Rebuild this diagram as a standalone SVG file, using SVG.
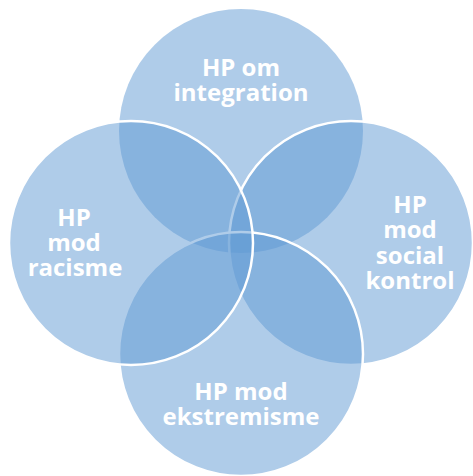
<svg xmlns="http://www.w3.org/2000/svg" width="473" height="476" viewBox="0 0 473 476">
<style>
.c{fill:#5f9ad3;fill-opacity:0.5}
.s{stroke:#ffffff;stroke-width:2.5}
.t{font-family:"Open Sans","Liberation Sans",sans-serif;font-weight:700;font-size:24px;fill:#ffffff;text-anchor:middle}
</style>
<rect width="473" height="476" fill="#ffffff"/>
<g id="top"><circle class="c" cx="241" cy="131" r="122"/></g>
<g id="right"><circle class="c s" cx="351" cy="243" r="122"/></g>
<g id="bottom"><circle class="c s" cx="241" cy="354" r="122"/></g>
<g id="left"><circle class="c s" cx="131" cy="243" r="122"/></g>
<g id="labels">
<text class="t" x="241" y="76">HP om</text>
<text class="t" x="241" y="101">integration</text>
<text class="t" x="74" y="226">HP</text>
<text class="t" x="74" y="251">mod</text>
<text class="t" x="75" y="276">racisme</text>
<text class="t" x="410" y="213">HP</text>
<text class="t" x="410" y="238">mod</text>
<text class="t" x="410" y="264">social</text>
<text class="t" x="410" y="289">kontrol</text>
<text class="t" x="241" y="400">HP mod</text>
<text class="t" x="241" y="425">ekstremisme</text>
</g>
<g id="connectors"/>
</svg>
